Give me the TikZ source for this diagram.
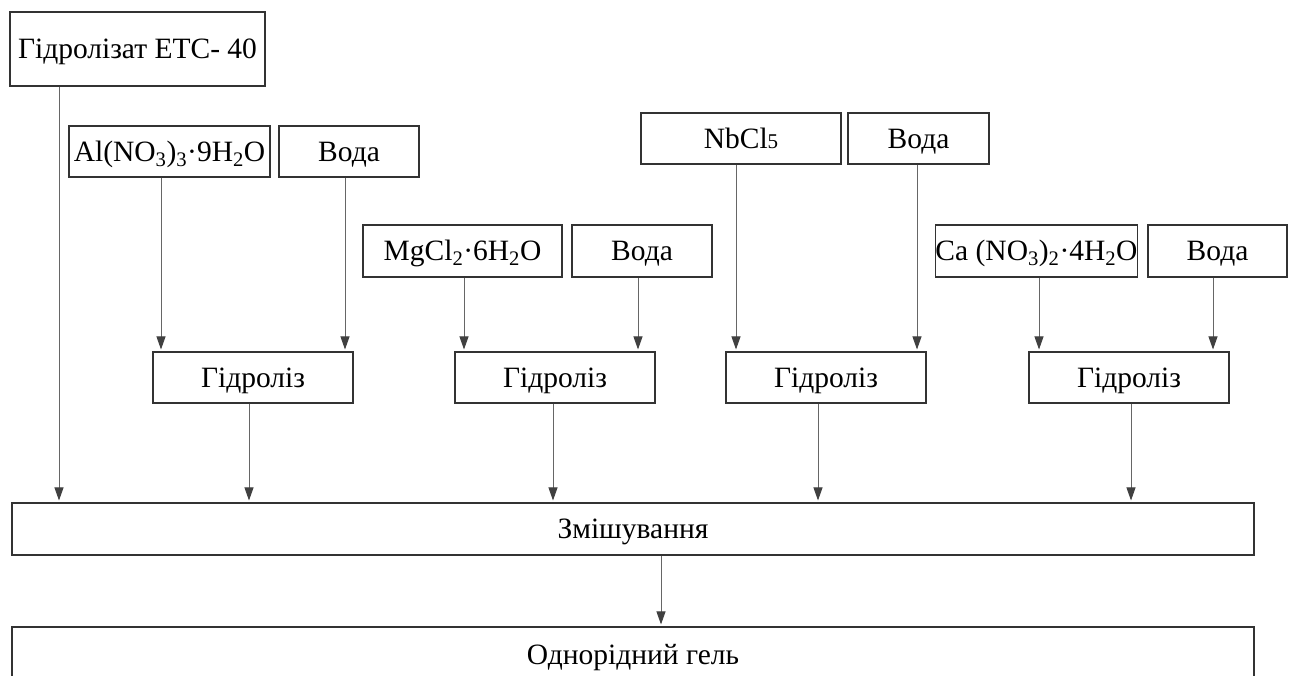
\documentclass[tikz,border=0pt]{standalone}
\usepackage{fontspec}
\setmainfont{Liberation Serif}
\usetikzlibrary{arrows.meta}
\begin{document}
\begin{tikzpicture}[x=1pt,y=-1pt,
  box/.style={draw=black!80, line width=1.1pt, inner sep=0pt, fill=white,
    text height=19pt, text depth=0pt,
    font=\fontsize{29.5}{33}\selectfont},
  arr/.style={draw=black!60, line width=0.9pt,
    -{Triangle[length=13pt,width=9pt,fill=black!75,color=black!75]}, shorten >=2pt}]
\clip (0,0) rectangle (1293,675);
\fill[white] (0,0) rectangle (1293,675);
% source boxes
\node[box, minimum width=255, minimum height=74] (A) at (137.5,49) {Гідролізат ЕТС- 40};
\node[box, minimum width=201, minimum height=51] (Al) at (169.5,151.5) {Al(NO\textsubscript{3})\textsubscript{3}·9H\textsubscript{2}O};
\node[box, minimum width=140, minimum height=51] (V1) at (349,151.5) {Вода};
\node[box, minimum width=199, minimum height=52] (Mg) at (462.5,251) {MgCl\textsubscript{2}·6H\textsubscript{2}O};
\node[box, minimum width=140, minimum height=52] (V2) at (642,251) {Вода};
\node[box, minimum width=200, minimum height=51] (Nb) at (741,138.5) {NbCl{\fontsize{21}{21}\selectfont 5}};
\node[box, minimum width=141, minimum height=51] (V3) at (918.5,138.5) {Вода};
\node[box, minimum width=201, minimum height=52] (Ca) at (1036.5,251) {Ca (NO\textsubscript{3})\textsubscript{2}·4H\textsubscript{2}O};
\node[box, minimum width=139, minimum height=52] (V4) at (1217.5,251) {Вода};
% hydrolysis boxes
\node[box, minimum width=200, minimum height=51] (G1) at (253,377.5) {Гідроліз};
\node[box, minimum width=200, minimum height=51] (G2) at (555,377.5) {Гідроліз};
\node[box, minimum width=200, minimum height=51] (G3) at (826,377.5) {Гідроліз};
\node[box, minimum width=200, minimum height=51] (G4) at (1129,377.5) {Гідроліз};
% mixing and gel
\node[box, minimum width=1242, minimum height=52] (M) at (633,529) {Змішування};
\node[box, minimum width=1242, minimum height=56] (O) at (633,655) {Однорідний гель};
% connectors
\draw[arr] ([xshift=-78.5pt]A.south) -- ([xshift=-78.5pt]A.south |- M.north);
\draw[arr] ([xshift=-8.5pt]Al.south) -- ([xshift=-8.5pt]Al.south |- G1.north);
\draw[arr] ([xshift=-4pt]V1.south) -- ([xshift=-4pt]V1.south |- G1.north);
\draw[arr] ([xshift=1.5pt]Mg.south) -- ([xshift=1.5pt]Mg.south |- G2.north);
\draw[arr] ([xshift=-4pt]V2.south) -- ([xshift=-4pt]V2.south |- G2.north);
\draw[arr] ([xshift=-5pt]Nb.south) -- ([xshift=-5pt]Nb.south |- G3.north);
\draw[arr] ([xshift=-1.5pt]V3.south) -- ([xshift=-1.5pt]V3.south |- G3.north);
\draw[arr] ([xshift=2.5pt]Ca.south) -- ([xshift=2.5pt]Ca.south |- G4.north);
\draw[arr] ([xshift=-4.5pt]V4.south) -- ([xshift=-4.5pt]V4.south |- G4.north);
\draw[arr] ([xshift=-4pt]G1.south) -- ([xshift=-4pt]G1.south |- M.north);
\draw[arr] ([xshift=-2pt]G2.south) -- ([xshift=-2pt]G2.south |- M.north);
\draw[arr] ([xshift=-8pt]G3.south) -- ([xshift=-8pt]G3.south |- M.north);
\draw[arr] ([xshift=2pt]G4.south) -- ([xshift=2pt]G4.south |- M.north);
\draw[arr] ([xshift=28pt]M.south) -- ([xshift=28pt]M.south |- O.north);
\end{tikzpicture}
\end{document}
